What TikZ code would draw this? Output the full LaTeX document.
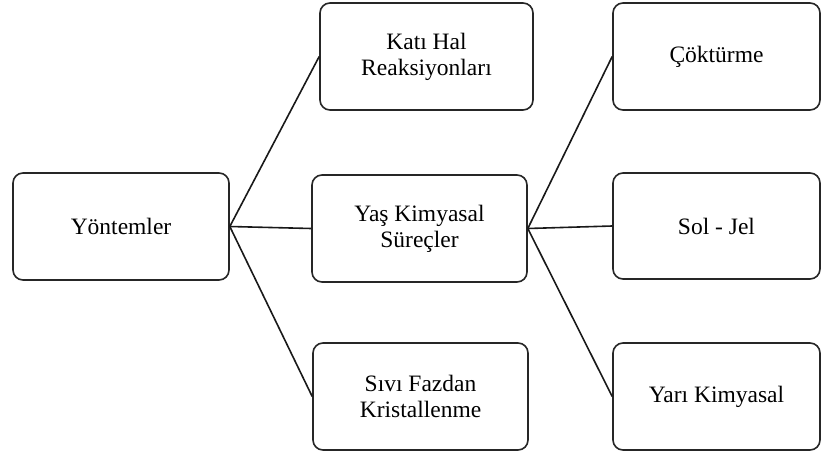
\documentclass[tikz,border=0pt]{standalone}
\usepackage{fontspec}
\setmainfont{Liberation Serif}
\begin{document}
\begin{tikzpicture}[x=1pt,y=-1pt,
  box/.style={draw=black!85, line width=1.6pt, rounded corners=10pt, fill=white,
    minimum height=107pt, inner sep=0pt, align=center,
    font=\fontsize{23.5}{26}\selectfont},
  link/.style={draw=black!90, line width=1.6pt}]
\useasboundingbox (0,0) rectangle (821,452);
\node[box, minimum width=216pt] (yon) at (121,226.5) {Yöntemler};
\node[box, minimum width=213pt] (kati) at (426.5,56.5) {Katı Hal\\Reaksiyonları};
\node[box, minimum width=215pt] (yas) at (419.5,228.5) {Yaş Kimyasal\\Süreçler};
\node[box, minimum width=215pt] (sivi) at (420.5,396.5) {Sıvı Fazdan\\Kristallenme};
\node[box, minimum width=207pt] (cok) at (716.5,56.5) {Çöktürme};
\node[box, minimum width=207pt, minimum height=106pt] (sol) at (716.5,226) {Sol - Jel};
\node[box, minimum width=207pt] (yari) at (716.5,396.5) {Yarı Kimyasal};
\draw[link] (yon.east) -- (kati.west);
\draw[link] (yon.east) -- (yas.west);
\draw[link] (yon.east) -- (sivi.west);
\draw[link] (yas.east) -- (cok.west);
\draw[link] (yas.east) -- (sol.west);
\draw[link] (yas.east) -- (yari.west);
\end{tikzpicture}
\end{document}
